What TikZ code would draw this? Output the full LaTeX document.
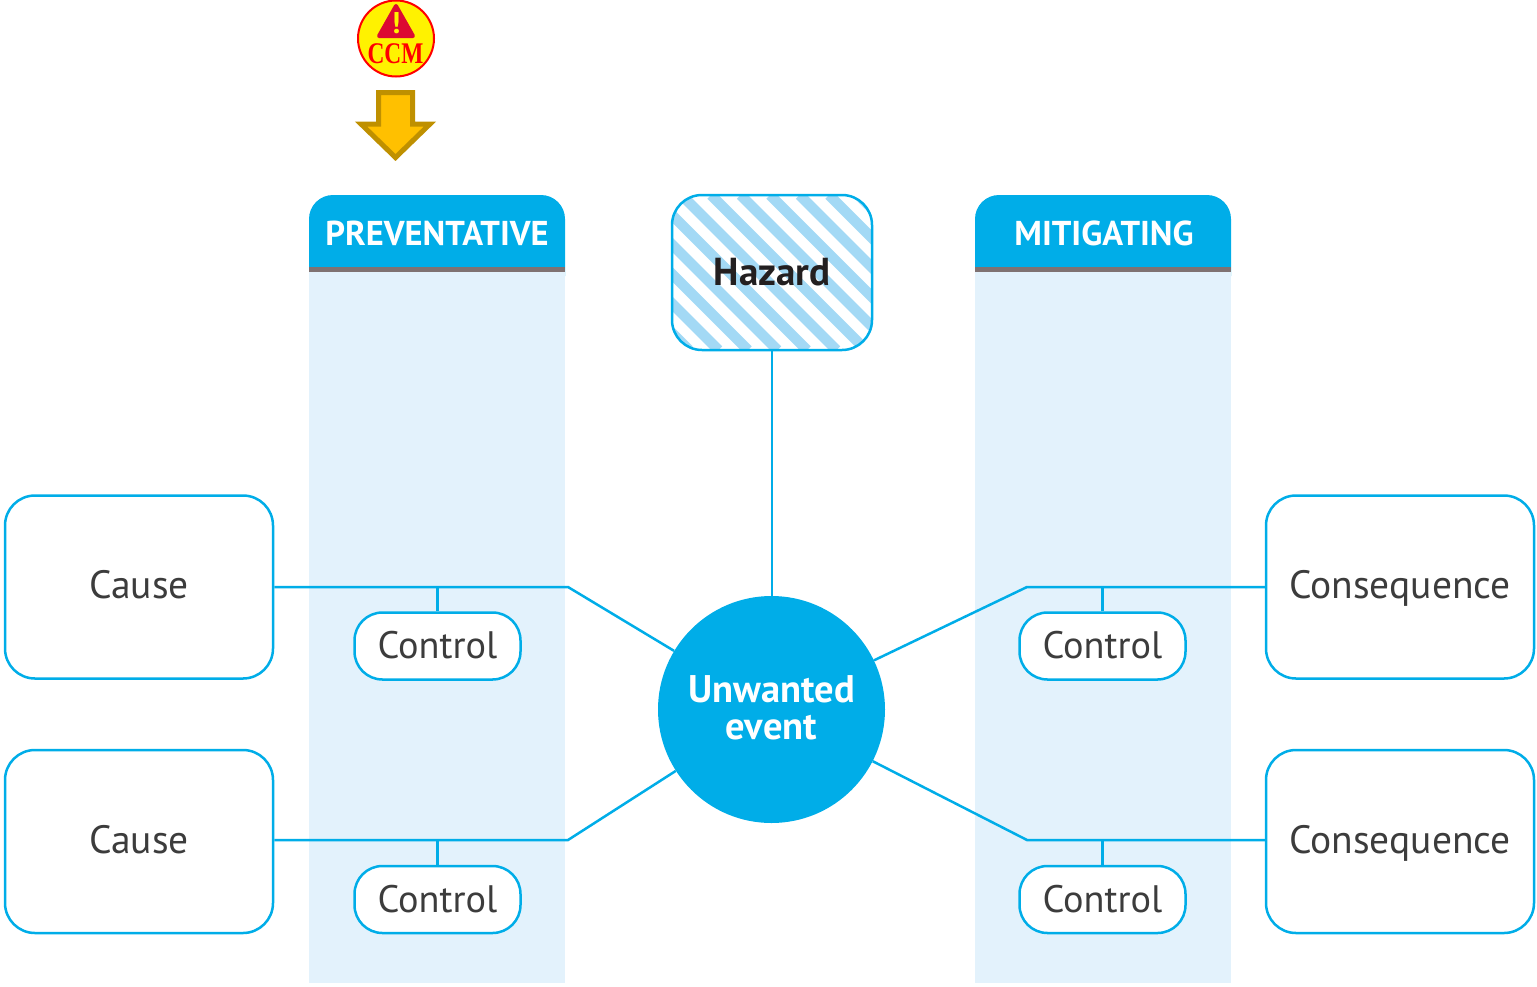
\documentclass[tikz,border=0pt]{standalone}
\usepackage{graphicx}
\usepackage{fontspec}
\setmainfont{PT Sans}
\newfontfamily\ccmfont{Liberation Serif}
\definecolor{bluea}{HTML}{00ADE8}
\definecolor{bandc}{HTML}{E3F2FC}
\definecolor{greyb}{HTML}{7F7272}
\definecolor{stripec}{HTML}{A3D9F5}
\definecolor{inkc}{HTML}{3C3C3C}
\definecolor{darkc}{HTML}{231F20}
\definecolor{arrowf}{HTML}{FFC000}
\definecolor{arrowd}{HTML}{BF9000}
\definecolor{trired}{HTML}{DC0A32}
\tikzset{
  bigbox/.style={draw=bluea,line width=2.5pt,fill=white,rounded corners=30pt,minimum width=268pt,minimum height=183pt,inner sep=0pt,text=inkc,text height=26pt,text depth=3pt,font=\fontsize{39.5}{40}\selectfont},
  ctrlbox/.style={draw=bluea,line width=2.5pt,fill=white,rounded corners=28pt,minimum width=166pt,minimum height=67pt,inner sep=0pt,text=inkc,text height=27pt,text depth=2pt,font=\fontsize{38.3}{40}\selectfont},
  conn/.style={draw=bluea,line width=2.5pt},
  band/.style={fill=bandc,draw=none},
  headtext/.style={text=white,font=\fontsize{34.5}{38}\selectfont\bfseries,inner sep=0pt},
}
\begin{document}
\begin{tikzpicture}[x=1pt,y=-1pt]
\useasboundingbox (0,0) rectangle (1537,986);
% bands
\fill[band] (309,270) rectangle (564.5,983);
\fill[band] (975,270) rectangle (1231,983);
% headers
\fill[bluea,rounded corners=24pt] (309,195) -- (565,195) -- (565,300) -- (309,300) -- cycle;
\fill[bluea,rounded corners=24pt] (975,195) -- (1231,195) -- (1231,300) -- (975,300) -- cycle;
\fill[bandc] (309,272) rectangle (564.5,305);
\fill[bandc] (975,272) rectangle (1231,305);
\fill[greyb] (308.5,267) rectangle (565,272);
\fill[greyb] (975,267) rectangle (1231,272);
\node[headtext] (prev) at (437,233) {PREVENTATIVE};
\node[headtext] (miti) at (1104,233) {MITIGATING};
% hazard stripes
\begin{scope}
\clip[rounded corners=30pt] (672,195) rectangle (872,350);
\foreach \k in {-8,...,10}{
  \draw[stripec,line width=10.5pt] ({516+29.5*\k+195},195) -- ({516+29.5*\k+350},350);
}
\end{scope}
% nodes
\node[draw=bluea,line width=2.5pt,rounded corners=30pt,minimum width=200pt,minimum height=155pt,inner sep=0pt,text=darkc,font=\fontsize{39}{40}\selectfont\bfseries] (hazard) at (772,272.5) {Hazard};
\node[circle,fill=bluea,minimum size=227pt,inner sep=0pt,text=white,font=\fontsize{38.5}{37}\selectfont\bfseries] (event) at (771.5,709.5) {\raisebox{-4pt}[\height][\depth]{\begin{tabular}{@{}c@{}}Unwanted\\event\end{tabular}}};
\node[bigbox] (cause1) at (139,587) {Cause};
\node[bigbox] (cause2) at (139,841.5) {Cause};
\node[bigbox] (cons1) at (1400,587) {Consequence};
\node[bigbox] (cons2) at (1400,841.5) {Consequence};
\node[ctrlbox] (c1) at (437.5,646) {Control};
\node[ctrlbox] (c2) at (437.5,899.5) {Control};
\node[ctrlbox] (c3) at (1102.5,646) {Control};
\node[ctrlbox] (c4) at (1102.5,899.5) {Control};
% connectors
\coordinate (e1) at (568,587);
\coordinate (e2) at (568,840);
\coordinate (e3) at (1027,587);
\coordinate (e4) at (1027,840);
\draw[conn] (hazard.south) -- (hazard.south |- event.north);
\draw[conn] (cause1.east) -- (e1) -- (event);
\draw[conn] (cause2.east |- e2) -- (e2) -- (event);
\draw[conn] (cons1.west) -- (e3) -- (event);
\draw[conn] (cons2.west |- e4) -- (e4) -- (event);
\draw[conn] (c1.north) -- (c1.north |- e1);
\draw[conn] (c2.north) -- (c2.north |- e2);
\draw[conn] (c3.north) -- (c3.north |- e3);
\draw[conn] (c4.north) -- (c4.north |- e4);
% CCM badge
\node[circle,draw=red,line width=2pt,fill=yellow,minimum size=76pt,inner sep=0pt] (badge) at (396,38.5) {};
\fill[trired,draw=trired,line width=4pt,line join=round] (396,6) -- (379,36) -- (413,36) -- cycle;
\node[text=yellow,font=\fontsize{30}{30}\selectfont\bfseries,inner sep=0pt] (bang) at (396,23) {!};
\node[text=red,font=\ccmfont\fontsize{30}{30}\selectfont\bfseries,inner sep=0pt] (ccm) at (395.5,54) {\scalebox{.78}[1]{CCM}};
% down arrow
\draw[fill=arrowf,draw=arrowd,line width=5pt,miter limit=10] (378.5,92.5) -- (412.5,92.5) -- (412.5,124) -- (430,124) -- (395.5,157.5) -- (361,124) -- (378.5,124) -- cycle;
\end{tikzpicture}
\end{document}
